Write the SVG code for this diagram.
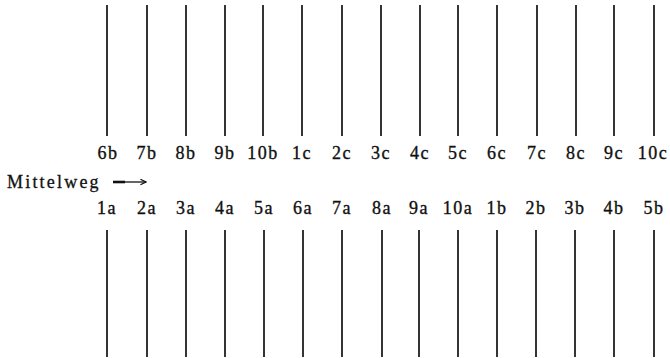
<svg xmlns="http://www.w3.org/2000/svg" width="670" height="358" viewBox="0 0 670 358">
<style>
.ln{stroke:#111;stroke-width:1.7;fill:none}
.lb{font-family:"Liberation Serif","Times New Roman",serif;font-size:18px;fill:#111;stroke:#111;stroke-width:0.35;text-anchor:middle;letter-spacing:1.5px}
.mw{font-family:"Liberation Serif","Times New Roman",serif;font-size:18px;fill:#111;stroke:#111;stroke-width:0.3;letter-spacing:2.2px}
</style>
<defs>
<marker id="ah" viewBox="0 0 10 10" refX="9" refY="5" markerWidth="7" markerHeight="7" markerUnits="userSpaceOnUse" orient="auto">
<path d="M1,1 L9,5 L1,9" fill="none" stroke="#111" stroke-width="1.6"/>
</marker>
</defs>
<rect width="670" height="358" fill="#fff"/>
<g id="top">
<g id="n6b"><line class="ln" x1="107" y1="5" x2="107" y2="136"/><text class="lb" x="108" y="159">6b</text></g>
<g id="n7b"><line class="ln" x1="147" y1="5" x2="147" y2="136"/><text class="lb" x="147" y="159">7b</text></g>
<g id="n8b"><line class="ln" x1="186" y1="5" x2="186" y2="136"/><text class="lb" x="186" y="159">8b</text></g>
<g id="n9b"><line class="ln" x1="225" y1="5" x2="225" y2="136"/><text class="lb" x="225" y="159">9b</text></g>
<g id="n10b"><line class="ln" x1="263" y1="5" x2="263" y2="136"/><text class="lb" x="263" y="159">10b</text></g>
<g id="n1c"><line class="ln" x1="302" y1="5" x2="302" y2="136"/><text class="lb" x="302" y="159">1c</text></g>
<g id="n2c"><line class="ln" x1="342" y1="5" x2="342" y2="136"/><text class="lb" x="342" y="159">2c</text></g>
<g id="n3c"><line class="ln" x1="381" y1="5" x2="381" y2="136"/><text class="lb" x="381" y="159">3c</text></g>
<g id="n4c"><line class="ln" x1="420" y1="5" x2="420" y2="136"/><text class="lb" x="420" y="159">4c</text></g>
<g id="n5c"><line class="ln" x1="458" y1="5" x2="458" y2="136"/><text class="lb" x="458" y="159">5c</text></g>
<g id="n6c"><line class="ln" x1="497" y1="5" x2="497" y2="136"/><text class="lb" x="497" y="159">6c</text></g>
<g id="n7c"><line class="ln" x1="537" y1="5" x2="537" y2="136"/><text class="lb" x="537" y="159">7c</text></g>
<g id="n8c"><line class="ln" x1="576" y1="5" x2="576" y2="136"/><text class="lb" x="576" y="159">8c</text></g>
<g id="n9c"><line class="ln" x1="614" y1="5" x2="614" y2="136"/><text class="lb" x="614" y="159">9c</text></g>
<g id="n10c"><line class="ln" x1="654" y1="5" x2="654" y2="136"/><text class="lb" x="653" y="159">10c</text></g>
</g>
<g id="bottom">
<g id="n1a"><line class="ln" x1="107" y1="230" x2="107" y2="357"/><text class="lb" x="107" y="214">1a</text></g>
<g id="n2a"><line class="ln" x1="147" y1="230" x2="147" y2="357"/><text class="lb" x="147" y="214">2a</text></g>
<g id="n3a"><line class="ln" x1="186" y1="230" x2="186" y2="357"/><text class="lb" x="186" y="214">3a</text></g>
<g id="n4a"><line class="ln" x1="225" y1="230" x2="225" y2="357"/><text class="lb" x="225" y="214">4a</text></g>
<g id="n5a"><line class="ln" x1="264" y1="230" x2="264" y2="357"/><text class="lb" x="264" y="214">5a</text></g>
<g id="n6a"><line class="ln" x1="303" y1="230" x2="303" y2="357"/><text class="lb" x="303" y="214">6a</text></g>
<g id="n7a"><line class="ln" x1="342" y1="230" x2="342" y2="357"/><text class="lb" x="342" y="214">7a</text></g>
<g id="n8a"><line class="ln" x1="382" y1="230" x2="382" y2="357"/><text class="lb" x="382" y="214">8a</text></g>
<g id="n9a"><line class="ln" x1="419" y1="230" x2="419" y2="357"/><text class="lb" x="419" y="214">9a</text></g>
<g id="n10a"><line class="ln" x1="458" y1="230" x2="458" y2="357"/><text class="lb" x="458" y="214">10a</text></g>
<g id="n1b"><line class="ln" x1="497" y1="230" x2="497" y2="357"/><text class="lb" x="497" y="214">1b</text></g>
<g id="n2b"><line class="ln" x1="536" y1="230" x2="536" y2="357"/><text class="lb" x="536" y="214">2b</text></g>
<g id="n3b"><line class="ln" x1="575" y1="230" x2="575" y2="357"/><text class="lb" x="575" y="214">3b</text></g>
<g id="n4b"><line class="ln" x1="614" y1="230" x2="614" y2="357"/><text class="lb" x="614" y="214">4b</text></g>
<g id="n5b"><line class="ln" x1="654" y1="230" x2="654" y2="357"/><text class="lb" x="654" y="214">5b</text></g>
</g>
<g id="mittelweg"><text class="mw" x="7" y="188">Mittelweg</text></g>
<g id="connectors">
<line x1="113" y1="182" x2="125" y2="182" stroke="#111" stroke-width="2.6"/>
<line x1="124" y1="182" x2="146" y2="182" stroke="#111" stroke-width="1.3" marker-end="url(#ah)"/>
</g>
</svg>
